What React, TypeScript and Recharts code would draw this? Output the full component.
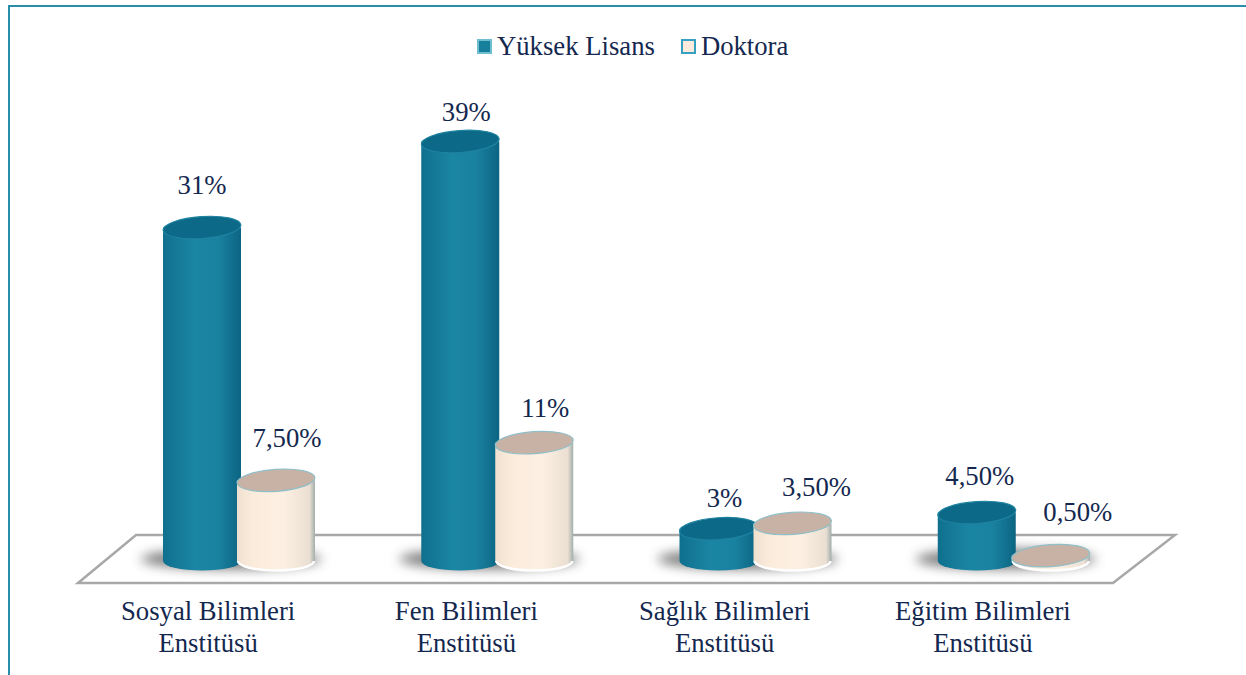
import React from "react";
import { BarChart, Bar, XAxis, YAxis, Legend, LabelList, Customized } from "recharts";

const categories = ["Sosyal Bilimleri Enstitüsü", "Fen Bilimleri Enstitüsü", "Sağlık Bilimleri Enstitüsü", "Eğitim Bilimleri Enstitüsü"];
const yuksekLisans = [31, 39, 3, 4.5];
const doktora = [7.5, 11, 3.5, 0.5];
const yuksekNudges = [[0, -43], [6, -30], [6, -31], [3, -37]];
const doktoraNudges = [[11, -42], [11, -35], [24, -36], [27, -44]];

const data = categories.map((name, i) => ({ name, yuksek: yuksekLisans[i], doktora: doktora[i] }));

const INK = "#14284f";
const FONT = "'Liberation Serif', serif";
const FS = 26.7;
const RY = 11;
const BOTTOM_RY = 9.5;

const fmt = (v: number) => (Number.isInteger(v) ? `${v}%` : `${v.toFixed(2).replace(".", ",")}%`);

function Cylinder(props: any) {
  const { x, y, width, height, kind } = props;
  const rx = width / 2;
  const base = y + height;
  const cx = x + rx;
  const body = `M${x},${y} L${x},${base} A${rx},${BOTTOM_RY} 0 0 0 ${x + width},${base} L${x + width},${y} Z`;
  const teal = kind === "y";
  return (
    <g>
      {teal && (
        <ellipse cx={x + 68} cy={base - 2} rx={90} ry={10} fill="#5f5f5f" opacity={0.85} filter="url(#soft)" />
      )}
      <path d={body} fill={teal ? "url(#tealBody)" : "url(#creamBody)"} />
      {!teal && (
        <path
          d={`M${x + 1},${base} A${rx - 1},${BOTTOM_RY} 0 0 0 ${x + width - 1},${base}`}
          fill="none"
          stroke="#ffffff"
          strokeWidth={2.5}
        />
      )}
      <ellipse
        cx={cx}
        cy={y}
        rx={rx}
        ry={RY}
        transform={`rotate(-4 ${cx} ${y})`}
        fill={teal ? "#0c6a88" : "#c8b2a5"}
        stroke={teal ? "#1f83a0" : "#8fbfc8"}
        strokeWidth={1.2}
      />
    </g>
  );
}

function Floor() {
  return (
    <g>
      <polygon points="78,583 1113,583 1175,535 136,535" fill="#ffffff" stroke="#a8a8a8" strokeWidth={2.5} strokeLinejoin="miter" />
    </g>
  );
}

function CategoryTick(props: any) {
  const { x, payload } = props;
  const words = String(payload.value).split(" ");
  const first = words.slice(0, 2).join(" ");
  const second = words.slice(2).join(" ");
  return (
    <g fill={INK} fontFamily={FONT} fontSize={FS} textAnchor="middle">
      <text x={x - 31} y={620}>{first}</text>
      <text x={x - 31} y={652}>{second}</text>
    </g>
  );
}

function makeLabel(nudges: number[][]) {
  return function BarLabel(props: any) {
    const { x, y, width, value, index } = props;
    const [dx, dy] = nudges[index];
    return (
      <text
        x={x + width / 2 + dx}
        y={y + dy + 9}
        fill={INK}
        fontFamily={FONT}
        fontSize={FS}
        textAnchor="middle"
      >
        {fmt(value)}
      </text>
    );
  };
}

function LegendBox(props: any) {
  const { payload } = props;
  return (
    <div style={{ display: "flex", alignItems: "center", fontFamily: FONT, fontSize: FS, color: INK, lineHeight: "30px" }}>
      {(payload || []).map((p: any, i: number) => (
        <div key={p.value} style={{ display: "flex", alignItems: "center", marginRight: i === 0 ? 26 : 0 }}>
          <span
            style={{
              display: "inline-block",
              boxSizing: "border-box",
              width: 15,
              height: 15,
              marginRight: 5,
              background: p.color,
              border: i === 0 ? "2px solid #6fbdd0" : "2px solid #35a0bf",
            }}
          />
          <span>{p.value}</span>
        </div>
      ))}
    </div>
  );
}

export default function App() {
  return (
    <div style={{ position: "fixed", left: 0, top: 0, width: 1246, height: 675, background: "#fff", overflow: "hidden" }}>
      <div
        style={{
          position: "absolute",
          left: 8,
          top: 5,
          right: -10,
          bottom: -10,
          border: "2px solid #2a8ea8",
        }}
      />
      <BarChart
        width={1246}
        height={675}
        data={data}
        margin={{ top: 47, right: 103, bottom: 84, left: 110 }}
        barSize={78}
        barGap={-4}
        style={{ position: "absolute", left: 0, top: 0 }}
      >
        <defs>
          <linearGradient id="tealBody" x1="0" x2="1" y1="0" y2="0">
            <stop offset="0" stopColor="#0f708e" />
            <stop offset="0.4" stopColor="#1b85a4" />
            <stop offset="0.7" stopColor="#1a82a1" />
            <stop offset="1" stopColor="#0c6582" />
          </linearGradient>
          <linearGradient id="creamBody" x1="0" x2="1" y1="0" y2="0">
            <stop offset="0" stopColor="#efe0cf" />
            <stop offset="0.2" stopColor="#fbebdb" />
            <stop offset="0.6" stopColor="#fdf0e3" />
            <stop offset="0.93" stopColor="#eadfd2" />
            <stop offset="1" stopColor="#a3aeac" />
          </linearGradient>
          <filter id="soft" x="-30%" y="-100%" width="160%" height="300%">
            <feGaussianBlur stdDeviation="6" />
          </filter>
        </defs>
        <Customized component={Floor} />
        <YAxis hide domain={[0, 45]} />
        <XAxis dataKey="name" axisLine={false} tickLine={false} tick={<CategoryTick />} interval={0} />
        <Legend
          verticalAlign="top"
          align="left"
          itemSorter={null}
          wrapperStyle={{ position: "absolute", left: 477, top: 31, width: 400 }}
          content={<LegendBox />}
        />
        <Bar
          dataKey="yuksek"
          name="Yüksek Lisans"
          fill="#157f9c"
          isAnimationActive={false}
          shape={(p: any) => <Cylinder {...p} kind="y" />}
        >
          <LabelList dataKey="yuksek" content={makeLabel(yuksekNudges)} />
        </Bar>
        <Bar
          dataKey="doktora"
          name="Doktora"
          fill="#fcebdc"
          isAnimationActive={false}
          shape={(p: any) => <Cylinder {...p} kind="d" />}
        >
          <LabelList dataKey="doktora" content={makeLabel(doktoraNudges)} />
        </Bar>
      </BarChart>
    </div>
  );
}
